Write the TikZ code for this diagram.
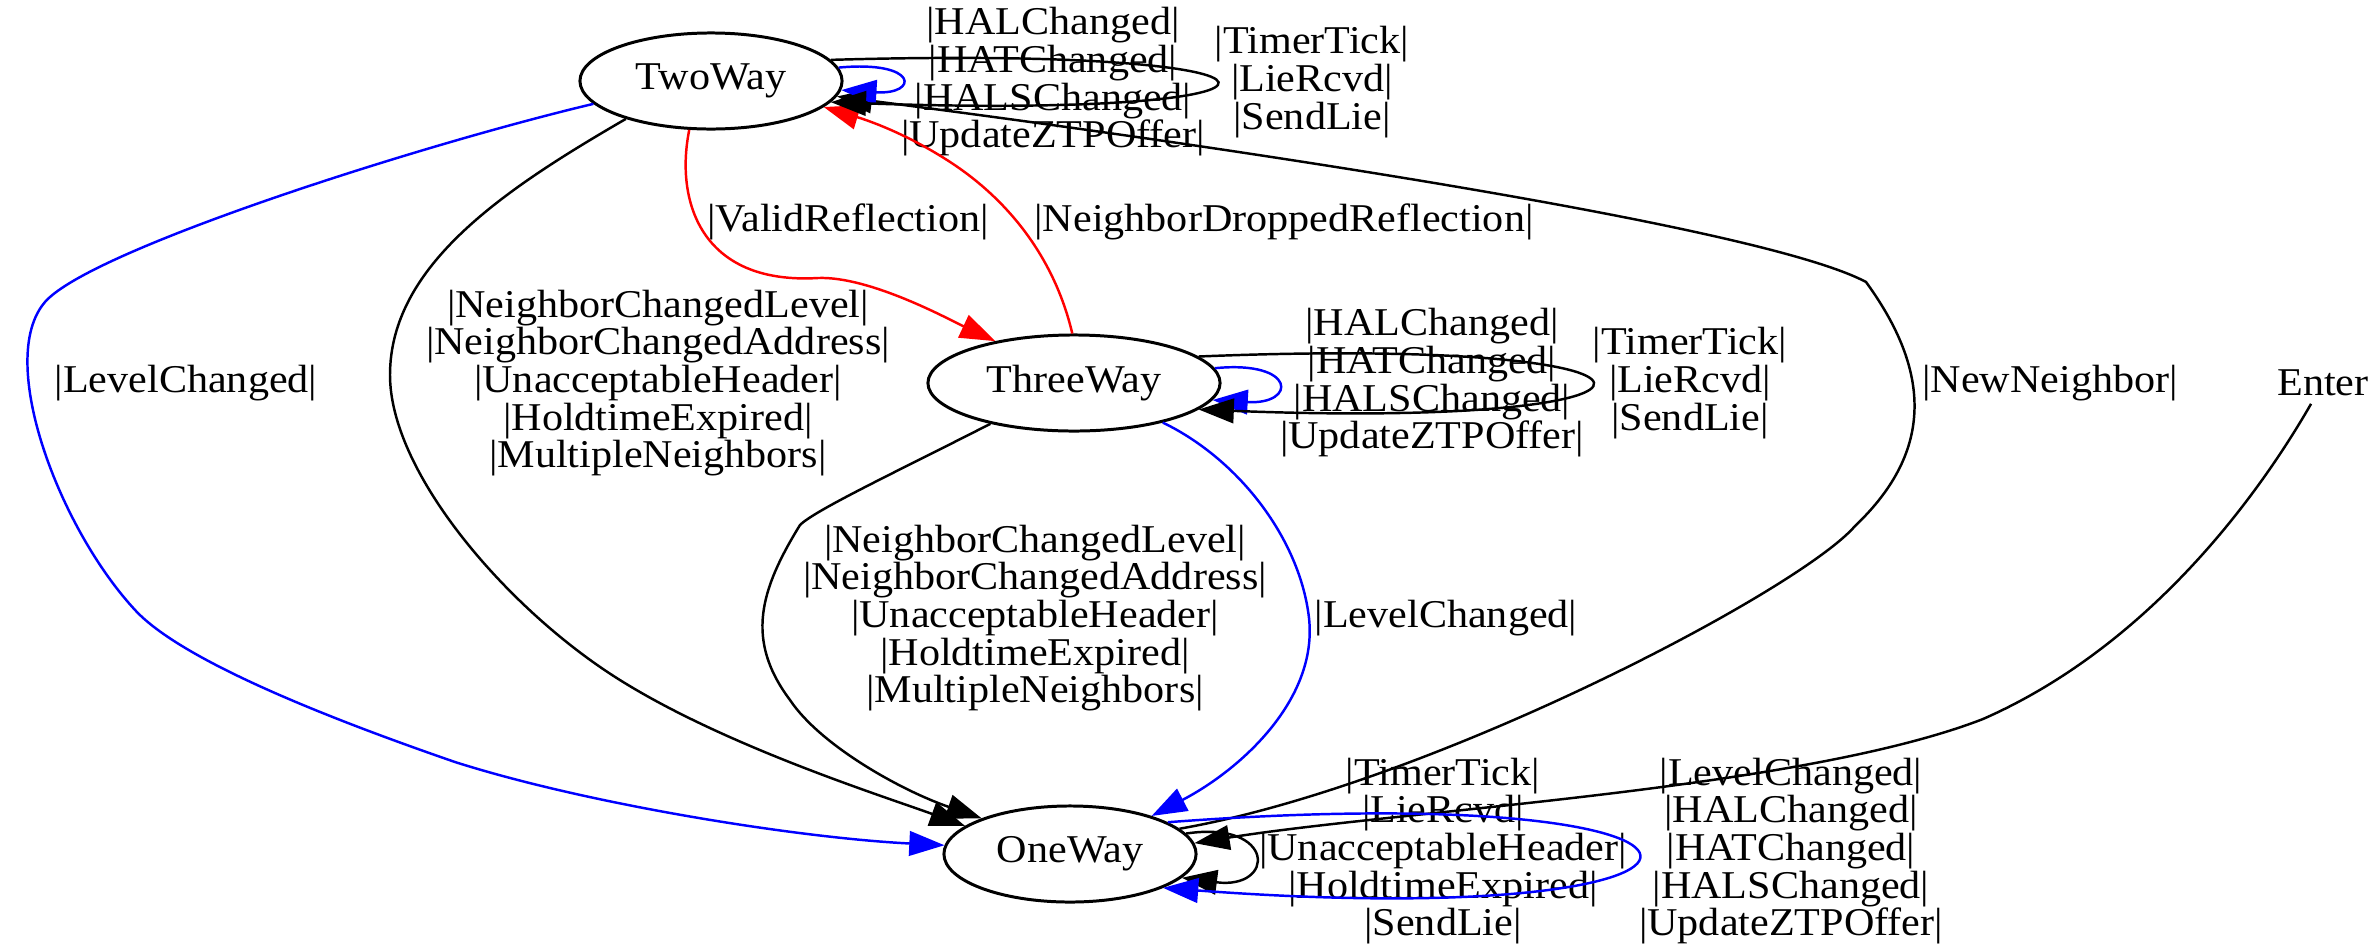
\documentclass[tikz,border=0pt]{standalone}
\usepackage{fontspec}
\setmainfont{Liberation Serif}[FakeStretch=1.07]
\usetikzlibrary{shapes.geometric,arrows.meta}
\begin{document}
\begin{tikzpicture}
        [x=0.01cm,y=-0.01cm,
         every node/.style={font=\fontsize{11.2}{10.7}\selectfont},
         state/.style={draw,ellipse,line width=0.85pt,minimum height=0.96cm,inner sep=0pt},
         edge/.style={line width=0.7pt,-{Triangle[length=10pt,width=7pt]}},
         blueedge/.style={edge,blue},
         rededge/.style={edge,red},
         lbl/.style={align=center,inner sep=0pt}]
        \useasboundingbox (0,0) rectangle (2376,948);

        \node[state,minimum width=2.62cm] (TwoWay) at (711,81) {TwoWay};
        \node[state,minimum width=2.92cm] (ThreeWay) at (1074,383) {ThreeWay};
        \node[state,minimum width=2.52cm] (OneWay) at (1070,854) {OneWay};
        \node[inner sep=2pt] (Enter) at (2323,383) {Enter};

        \node[lbl] (lTwoLevel) at (186,383) {|LevelChanged|};
        \node[lbl] (lTwoOne) at (658,383) {|NeighborChangedLevel|\\|NeighborChangedAddress|\\|UnacceptableHeader|\\|HoldtimeExpired|\\|MultipleNeighbors|};
        \node[lbl] (lValid) at (848,222) {|ValidReflection|};
        \node[lbl] (lDropped) at (1284,222) {|NeighborDroppedReflection|};
        \node[lbl] (lTwoHAL) at (1053,82) {|HALChanged|\\|HATChanged|\\|HALSChanged|\\|UpdateZTPOffer|};
        \node[lbl] (lTwoTimer) at (1312,82) {|TimerTick|\\|LieRcvd|\\|SendLie|};
        \node[lbl] (lThreeHAL) at (1432,383) {|HALChanged|\\|HATChanged|\\|HALSChanged|\\|UpdateZTPOffer|};
        \node[lbl] (lThreeTimer) at (1690,383) {|TimerTick|\\|LieRcvd|\\|SendLie|};
        \node[lbl] (lNew) at (2050,383) {|NewNeighbor|};
        \node[lbl] (lThreeOne) at (1035,618) {|NeighborChangedLevel|\\|NeighborChangedAddress|\\|UnacceptableHeader|\\|HoldtimeExpired|\\|MultipleNeighbors|};
        \node[lbl] (lThreeLevel) at (1446,618) {|LevelChanged|};
        \node[lbl] (lOneTimer) at (1443,851) {|TimerTick|\\|LieRcvd|\\|UnacceptableHeader|\\|HoldtimeExpired|\\|SendLie|};
        \node[lbl] (lOneLevel) at (1791,851) {|LevelChanged|\\|HALChanged|\\|HATChanged|\\|HALSChanged|\\|UpdateZTPOffer|};

        \draw[blueedge] (TwoWay.191) .. controls (420,145) and (90,250) .. (45,302)
          .. controls (-5,360) and (60,530) .. (136,611)
          .. controls (186,664) and (345,724) .. (455,762)
          .. controls (590,805) and (800,838) .. (OneWay.176);
        \draw[edge] (TwoWay.204) .. controls (505,189) and (390,265) .. (390,375)
          .. controls (390,470) and (500,600) .. (606,671)
          .. controls (712,742) and (880,795) .. (OneWay.165);
        \draw[rededge] (TwoWay.246) .. controls (675,200) and (700,285) .. (818,278)
          .. controls (870,276) and (950,320) .. (ThreeWay.152);
        \draw[rededge] (ThreeWay.92) .. controls (1055,260) and (1010,200) .. (947,160)
          .. controls (900,130) and (860,118) .. (TwoWay.347);
        \draw[edge] (ThreeWay.206) .. controls (900,470) and (815,510) .. (800,525)
          .. controls (760,590) and (745,640) .. (790,700)
          .. controls (820,745) and (900,790) .. (OneWay.158);
        \draw[blueedge] (ThreeWay.336) .. controls (1240,460) and (1300,540) .. (1309,618)
          .. controls (1318,700) and (1240,770) .. (OneWay.25);
        \draw[edge] (OneWay.13) .. controls (1430,785) and (1800,590) .. (1855,526)
          .. controls (1935,450) and (1930,370) .. (1866,282)
          .. controls (1750,220) and (1100,130) .. (TwoWay.353);
        \draw[edge] (Enter) .. controls (2250,510) and (2140,650) .. (1983,719)
          .. controls (1800,790) and (1400,810) .. (OneWay.5);

        \draw[blueedge] (TwoWay.6) .. controls (919,60) and (919,95) .. (TwoWay.356);
        \draw[edge] (TwoWay.10) .. controls (1342,45) and (1342,120) .. (TwoWay.350);
        \draw[blueedge] (ThreeWay.6) .. controls (1297,360) and (1297,405) .. (ThreeWay.353);
        \draw[edge] (ThreeWay.12) .. controls (1720,335) and (1720,430) .. (ThreeWay.348);
        \draw[edge] (OneWay.10) .. controls (1276,820) and (1276,890) .. (OneWay.348);
        \draw[blueedge] (OneWay.18) .. controls (1793,775) and (1793,935) .. (OneWay.340);
      \end{tikzpicture}
\end{document}
